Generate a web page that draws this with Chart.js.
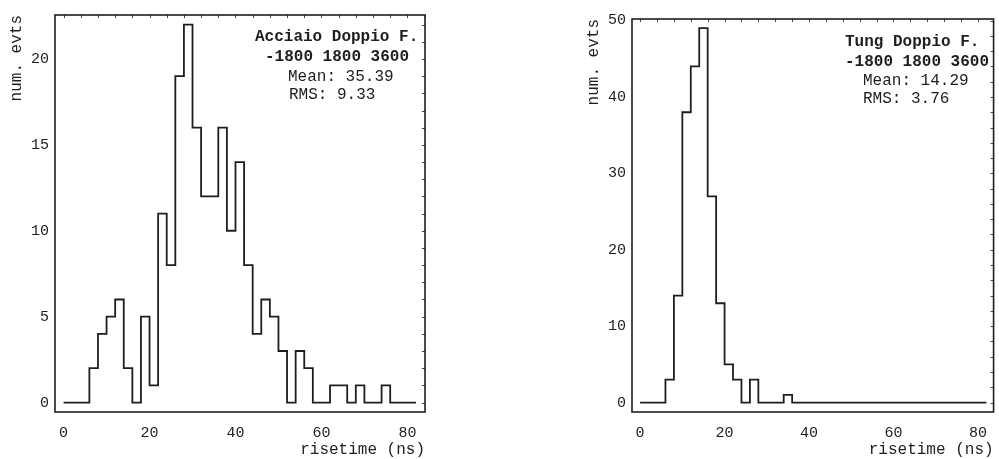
<!DOCTYPE html>
<html>
<head>
<meta charset="utf-8">
<script src="https://cdn.jsdelivr.net/npm/chart.js@4/dist/chart.umd.min.js"></script>
<style>
  html, body { margin: 0; padding: 0; background: #fff; }
  body { width: 999px; height: 459px; position: relative; overflow: hidden; }
  .box { position: absolute; top: 0; }
</style>
</head>
<body>
<div class="box" style="left:0px"><canvas id="acciaioChart" width="440" height="459"></canvas></div>
<div class="box" style="left:570px"><canvas id="tungChart" width="429" height="459"></canvas></div>
<script>
// bin edges (ns), 2 ns wide
const binEdges = [0, 2, 4, 6, 8, 10, 12, 14, 16, 18, 20, 22, 24, 26, 28, 30, 32, 34, 36, 38, 40,
  42, 44, 46, 48, 50, 52, 54, 56, 58, 60, 62, 64, 66, 68, 70, 72, 74, 76, 78, 80, 82];

// counts per bin
const acciaioCounts = [0, 0, 0, 2, 4, 5, 6, 2, 0, 5, 1, 11, 8, 19, 22, 16, 12, 12, 16, 10, 14,
  8, 4, 6, 5, 3, 0, 3, 2, 0, 0, 1, 1, 0, 1, 0, 0, 1, 0, 0, 0];
const tungCounts = [0, 0, 0, 3, 14, 38, 44, 49, 27, 13, 5, 3, 0, 3, 0, 0, 0, 1, 0, 0, 0,
  0, 0, 0, 0, 0, 0, 0, 0, 0, 0, 0, 0, 0, 0, 0, 0, 0, 0, 0, 0];

const xTicks = [0, 20, 40, 60, 80];
const acciaioYTicks = [0, 5, 10, 15, 20];
const tungYTicks = [0, 10, 20, 30, 40, 50];

const acciaioText = ["Acciaio Doppio F.", "-1800 1800 3600", "Mean: 35.39", "RMS: 9.33"];
const tungText = ["Tung Doppio F.", "-1800 1800 3600", "Mean: 14.29", "RMS: 3.76"];

const INK = "#1e1e1e";
const MONO = "'Liberation Mono', 'Courier New', monospace";

// each bin's count is held from its left edge to the next edge
function toSteps(edges, counts) {
  const points = [{ x: edges[0], y: counts[0] }];
  counts.forEach((count, i) => points.push({ x: edges[i + 1], y: count }));
  return points;
}

const framePlugin = {
  id: "frame",
  afterDraw(chart, args, opts) {
    const { ctx, chartArea: area, scales } = chart;
    ctx.save();
    ctx.strokeStyle = "#444";
    ctx.lineWidth = 1;
    ctx.beginPath();
    for (let v = 0; v <= scales.x.max; v += opts.topStep) {
      const px = Math.round(scales.x.getPixelForValue(v)) + 0.5;
      ctx.moveTo(px, area.top);
      ctx.lineTo(px, area.top + 3);
    }
    for (let v = 0; v <= scales.y.max; v += opts.rightStep) {
      const py = Math.round(scales.y.getPixelForValue(v)) + 0.5;
      ctx.moveTo(area.right, py);
      ctx.lineTo(area.right - 3, py);
    }
    ctx.stroke();

    ctx.strokeStyle = INK;
    ctx.lineWidth = 1.6;
    ctx.strokeRect(area.left, area.top, area.right - area.left, area.bottom - area.top);

    ctx.fillStyle = INK;
    ctx.textBaseline = "alphabetic";
    ctx.textAlign = "left";
    opts.lines.forEach((text, i) => {
      const spot = opts.spots[i];
      ctx.font = (i < 2 ? "bold " : "") + "16px " + MONO;
      ctx.fillText(text, spot[0], spot[1]);
    });
    ctx.restore();
  },
};

function buildHistogram(canvasId, counts, yTicks, cfg) {
  const context = document.getElementById(canvasId);
  return new Chart(context, {
    type: "line",
    data: {
      datasets: [
        {
          data: toSteps(binEdges, counts),
          stepped: "after",
          borderColor: INK,
          borderWidth: 1.8,
          pointRadius: 0,
          fill: false,
        },
      ],
    },
    options: {
      responsive: false,
      animation: false,
      devicePixelRatio: 1,
      layout: { padding: { top: cfg.top, right: cfg.right, left: 0, bottom: 0 } },
      plugins: {
        legend: { display: false },
        tooltip: { enabled: false },
        frame: { topStep: 4, rightStep: cfg.rightStep, lines: cfg.lines, spots: cfg.spots },
      },
      scales: {
        x: {
          type: "linear",
          min: cfg.xMin,
          max: cfg.xMax,
          grid: { display: false, drawTicks: false },
          border: { display: false },
          afterBuildTicks: (scale) => { scale.ticks = xTicks.map((v) => ({ value: v })); },
          afterFit: (scale) => { scale.height = 47; },
          ticks: { color: INK, padding: 12, maxRotation: 0, font: { family: MONO, size: 15 } },
          title: {
            display: true,
            text: "risetime (ns)",
            align: "end",
            color: INK,
            padding: { top: 0, bottom: 0 },
            font: { family: MONO, size: 16 },
          },
        },
        y: {
          type: "linear",
          min: cfg.yMin,
          max: cfg.yMax,
          grid: { display: false, drawTicks: false },
          border: { display: false },
          afterBuildTicks: (scale) => { scale.ticks = yTicks.map((v) => ({ value: v })); },
          afterFit: (scale) => { scale.width = cfg.yWidth; },
          ticks: { color: INK, padding: 6, font: { family: MONO, size: 15 } },
          title: {
            display: true,
            text: "num. evts",
            align: "end",
            color: INK,
            padding: { top: cfg.titlePad, bottom: 0 },
            font: { family: MONO, size: 16 },
          },
        },
      },
    },
    plugins: [framePlugin],
  });
}

document.addEventListener("DOMContentLoaded", () => {
  buildHistogram("acciaioChart", acciaioCounts, acciaioYTicks, {
    top: 15, right: 15, yWidth: 55, titlePad: 7,
    xMin: -2, xMax: 84.1, yMin: -0.55, yMax: 22.56, rightStep: 1,
    lines: acciaioText,
    spots: [[255, 41], [265, 61], [288, 80.5], [289, 99]],
  });
  buildHistogram("tungChart", tungCounts, tungYTicks, {
    top: 19, right: 1, yWidth: 62, titlePad: 14,
    xMin: -1.92, xMax: 83.7, yMin: -1.23, yMax: 50.2, rightStep: 2,
    lines: tungText,
    spots: [[275, 45.5], [275, 65.5], [293, 84.5], [293, 103]],
  });
});
</script>
</body>
</html>
